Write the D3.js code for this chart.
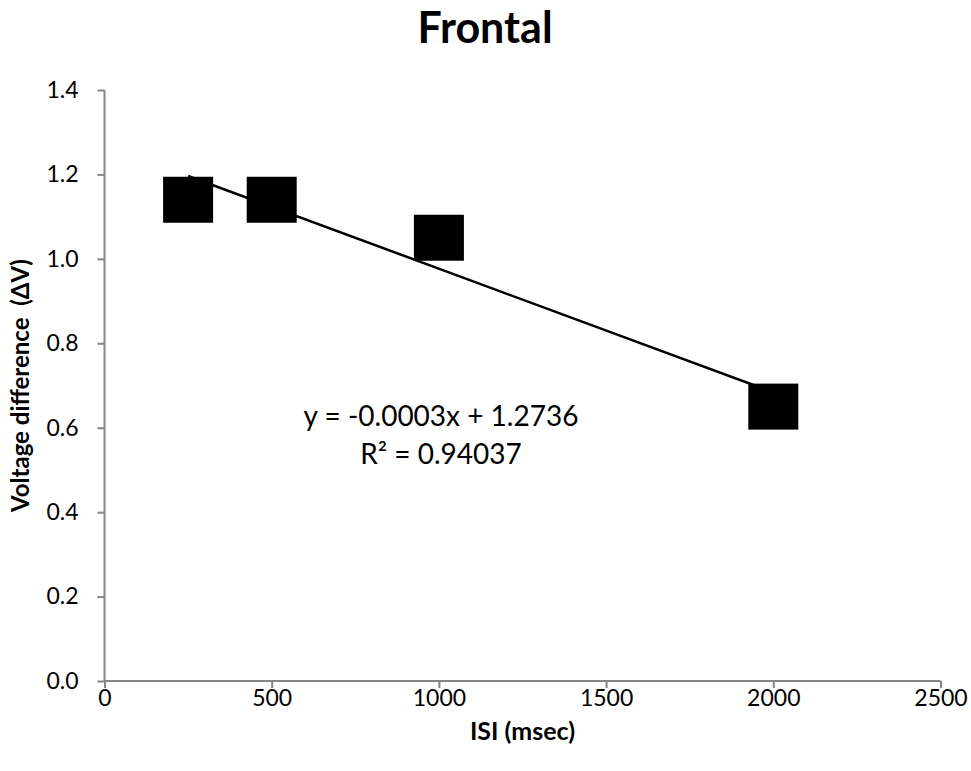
<!DOCTYPE html>
<html>
<head>
<meta charset="utf-8">
<script src="https://cdn.jsdelivr.net/npm/d3@7"></script>
<style>
  body { margin: 0; background: #fff; }
  text { font-family: Lato, "Open Sans", sans-serif; fill: #000; }
</style>
</head>
<body>
<svg></svg>
<script>
// data
var isi = [250, 500, 1000, 2000]
var voltage = [1.14, 1.14, 1.05, 0.65]
var xTicks = [0, 500, 1000, 1500, 2000, 2500]
var yTicks = [0, 0.2, 0.4, 0.6, 0.8, 1.0, 1.2, 1.4]

var svg = d3.select('svg')
  .attr('width', 971)
  .attr('height', 771)

// plot area (window.top is read-only, so other names)
var ml = 104.5, mt = 90, w = 836, h = 591

const x = d3.scaleLinear().domain([0, 2500]).range([ml, ml + w])
const y = d3.scaleLinear().domain([0, 1.4]).range([mt + h, mt])

// axes
var xAxis = svg.append('g')
  .attr('transform', `translate(0,${mt + h})`)
  .call(d3.axisBottom(x).tickValues(xTicks).tickSize(7).tickPadding(2).tickFormat(d3.format('d')))
var yAxis = svg.append('g')
  .attr('transform', `translate(${ml},0)`)
  .call(d3.axisLeft(y).tickValues(yTicks).tickSize(7).tickPadding(19).tickFormat(d3.format('.1f')))

svg.selectAll('.domain, .tick line')
  .attr('stroke', '#868686')
  .attr('stroke-width', 2)
xAxis.select('.domain').attr('d', `M${ml},0H${ml + w}`)
yAxis.select('.domain').attr('d', `M0,${mt}V${mt + h}`)
svg.selectAll('.tick text')
  .attr('font-family', 'Lato, sans-serif')
  .attr('font-size', 23)
  .attr('fill', '#000')

// linear regression for trend line
var mx = d3.mean(isi), my = d3.mean(voltage)
var sxy = d3.sum(isi, (d, i) => (d - mx) * (voltage[i] - my))
var sxx = d3.sum(isi, d => (d - mx) * (d - mx))
var slope = sxy / sxx
var intercept = my - slope * mx

svg.append('line')
  .attr('x1', x(d3.min(isi)))
  .attr('y1', y(intercept + slope * d3.min(isi)))
  .attr('x2', x(d3.max(isi)))
  .attr('y2', y(intercept + slope * d3.max(isi)))
  .attr('stroke', '#000')
  .attr('stroke-width', 2.5)

// square markers
svg.selectAll('rect.pt')
  .data(isi)
  .enter()
  .append('rect')
  .attr('class', 'pt')
  .attr('x', d => x(d) - 25)
  .attr('y', (d, i) => y(voltage[i]) - 23)
  .attr('width', 50)
  .attr('height', 46)
  .attr('fill', '#000')

// equation label
svg.append('text')
  .attr('x', 441)
  .attr('y', 426)
  .attr('text-anchor', 'middle')
  .attr('font-size', 28)
  .text('y = -0.0003x + 1.2736')
svg.append('text')
  .attr('x', 441)
  .attr('y', 464)
  .attr('text-anchor', 'middle')
  .attr('font-size', 28)
  .text('R² = 0.94037')

// titles
svg.append('text')
  .attr('x', 485)
  .attr('y', 43)
  .attr('text-anchor', 'middle')
  .attr('font-size', 43)
  .attr('font-weight', 'bold')
  .text('Frontal')

svg.append('text')
  .attr('x', ml + w / 2)
  .attr('y', 740)
  .attr('text-anchor', 'middle')
  .attr('font-size', 25)
  .attr('font-weight', 'bold')
  .text('ISI (msec)')

svg.append('text')
  .attr('transform', `translate(29,${mt + h / 2}) rotate(-90)`)
  .attr('text-anchor', 'middle')
  .attr('font-size', 24)
  .attr('font-weight', 'bold')
  .style('white-space', 'pre')
  .text('Voltage difference  (ΔV)')
</script>
</body>
</html>
